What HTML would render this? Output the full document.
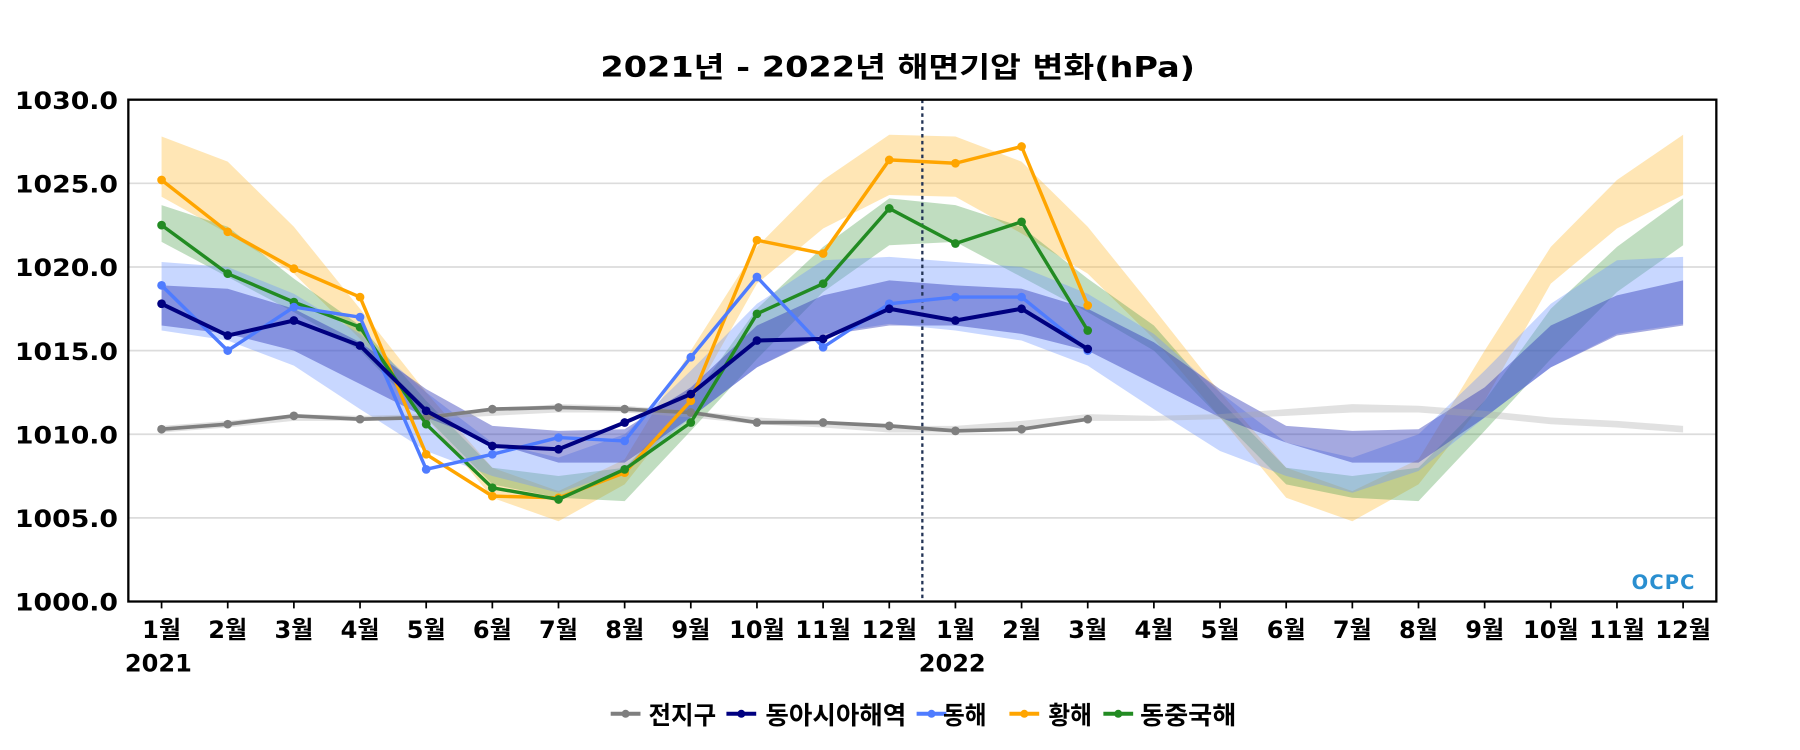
<!DOCTYPE html>
<html><head><meta charset="utf-8">
<style>
html,body{margin:0;padding:0;background:#fff;}
svg{display:block;font-family:"DejaVu Sans","Noto Sans CJK KR",sans-serif;}
</style></head>
<body>
<svg id="chart" width="1800" height="750" viewBox="0 0 1571 654.6" xmlns="http://www.w3.org/2000/svg">
<text x="524" y="67" font-size="25" font-weight="bold" textLength="519" lengthAdjust="spacingAndGlyphs">2021년 - 2022년 해면기압 변화(hPa)</text>
<g id="grid"></g>
<g id="bands"></g>
<g id="lines"></g>
<g id="axes"></g>
<g id="legend"></g>
<text x="1452" y="514" text-anchor="middle" font-size="17" font-weight="bold" fill="#2a8fd0" letter-spacing="1">OCPC</text>
</svg>
<script>
const months = ["1월","2월","3월","4월","5월","6월","7월","8월","9월","10월","11월","12월","1월","2월","3월","4월","5월","6월","7월","8월","9월","10월","11월","12월"];
const yTicks = [1000,1005,1010,1015,1020,1025,1030];
const globalObs = [1010.3,1010.6,1011.1,1010.9,1011.0,1011.5,1011.6,1011.5,1011.3,1010.7,1010.7,1010.5,1010.2,1010.3,1010.9];
const eastAsiaObs = [1017.8,1015.9,1016.8,1015.3,1011.4,1009.3,1009.1,1010.7,1012.4,1015.6,1015.7,1017.5,1016.8,1017.5,1015.1];
const eastSeaObs = [1018.9,1015.0,1017.6,1017.0,1007.9,1008.8,1009.8,1009.6,1014.6,1019.4,1015.2,1017.8,1018.2,1018.2,1015.0];
const yellowSeaObs = [1025.2,1022.1,1019.9,1018.2,1008.8,1006.3,1006.2,1007.7,1012.0,1021.6,1020.8,1026.4,1026.2,1027.2,1017.7];
const eastChinaObs = [1022.5,1019.6,1017.9,1016.4,1010.6,1006.8,1006.1,1007.9,1010.7,1017.2,1019.0,1023.5,1021.4,1022.7,1016.2];
const globalLo = [1010.1,1010.4,1010.8,1010.8,1010.9,1011.1,1011.3,1011.3,1011.0,1010.6,1010.4,1010.1];
const globalHi = [1010.5,1010.8,1011.2,1011.1,1011.2,1011.5,1011.8,1011.7,1011.4,1011.0,1010.8,1010.5];
const eastAsiaLo = [1016.5,1016.0,1015.0,1013.0,1011.0,1009.5,1008.3,1008.3,1011.0,1014.0,1015.9,1016.5];
const eastAsiaHi = [1018.9,1018.7,1017.5,1015.5,1012.7,1010.5,1010.2,1010.3,1012.8,1016.5,1018.3,1019.2];
const eastSeaLo = [1016.2,1015.6,1014.1,1011.5,1009.0,1007.5,1006.5,1007.8,1011.0,1014.0,1016.0,1016.6];
const eastSeaHi = [1020.3,1020.0,1018.4,1016.0,1012.5,1009.5,1008.6,1010.0,1013.8,1017.8,1020.4,1020.6];
const yellowSeaLo = [1024.2,1022.0,1019.6,1015.7,1011.0,1006.2,1004.8,1007.0,1012.0,1019.0,1022.3,1024.3];
const yellowSeaHi = [1027.8,1026.3,1022.4,1017.5,1012.5,1008.0,1006.6,1008.5,1015.0,1021.2,1025.2,1027.9];
const eastChinaLo = [1021.5,1019.4,1017.3,1015.0,1011.0,1007.0,1006.2,1006.0,1010.2,1014.5,1018.5,1021.3];
const eastChinaHi = [1023.7,1022.4,1019.3,1016.5,1012.0,1008.0,1007.5,1008.0,1012.0,1017.5,1021.2,1024.1];

const NS = "http://www.w3.org/2000/svg";
const L=112,R=1498,T=87,B=525;
const xs = i => 141 + i*(1469-141)/23;
const ys = v => B - (v-1000)/30*(B-T);
function mk(tag, attrs, parent){const e=document.createElementNS(NS,tag);for(const k in attrs)e.setAttribute(k,attrs[k]);parent.appendChild(e);return e;}
const grid=document.getElementById('grid'),bands=document.getElementById('bands'),lines=document.getElementById('lines'),axes=document.getElementById('axes'),legend=document.getElementById('legend');

yTicks.forEach(t=>{
  const g=mk('line',{x1:L,x2:R,y1:ys(t),y2:ys(t),stroke:'#dcdcdc','stroke-width':1.5},grid);
  
  
  const tx=mk('text',{x:13,y:ys(t)+8,'font-size':21,'font-weight':'bold',textLength:90,lengthAdjust:'spacingAndGlyphs'},axes);
  tx.textContent=t.toFixed(1);
  
  
});
months.forEach((m,i)=>{
  const tk=mk('line',{x1:xs(i),x2:xs(i),y1:B,y2:B+6,stroke:'#000','stroke-width':1.5},axes);
  
  
  const tx=mk('text',{x:xs(i),y:557,'text-anchor':'middle','font-size':21,'font-weight':'bold'},axes);
  tx.textContent=m;
  
  
});
[["2021",0],["2022",12]].forEach(([y,i])=>{
  const tx=mk('text',{x:xs(i)-32,y:586,'font-size':21,'font-weight':'bold'},axes);
  tx.textContent=y;
  
  
});

function band(lo,hi,color,name){
  const n=24;let pts=[];
  for(let i=0;i<n;i++)pts.push(xs(i)+','+ys(hi[i%12]));
  for(let i=n-1;i>=0;i--)pts.push(xs(i)+','+ys(lo[i%12]));
  const p=mk('polygon',{points:pts.join(' '),fill:color,stroke:'none'},bands);
  
  
}
band(yellowSeaLo,yellowSeaHi,'rgba(255,190,60,0.38)','yellow-sea-normal-band');
band(eastChinaLo,eastChinaHi,'rgba(60,150,60,0.32)','east-china-sea-normal-band');
band(eastSeaLo,eastSeaHi,'rgba(110,150,255,0.38)','east-sea-normal-band');
band(eastAsiaLo,eastAsiaHi,'rgba(40,50,180,0.42)','east-asia-normal-band');
band(globalLo,globalHi,'rgba(170,170,170,0.35)','global-normal-band');

const dv=mk('line',{x1:805,x2:805,y1:T,y2:B,stroke:'#223355','stroke-width':2,'stroke-dasharray':'3,3'},lines);



function series(vals,color,name,w){
  const pts=vals.map((v,i)=>xs(i)+','+ys(v)).join(' ');
  const p=mk('polyline',{points:pts,fill:'none',stroke:color,'stroke-width':w,'stroke-linejoin':'round'},lines);
  
  
  vals.forEach((v,i)=>{
    const c=mk('circle',{cx:xs(i),cy:ys(v),r:3.8,fill:color},lines);
    
    
  });
}
series(globalObs,'#7f7f7f','global',3.2);
series(yellowSeaObs,'#ffa500','yellow-sea',3);
series(eastChinaObs,'#228b22','east-china-sea',3);
series(eastSeaObs,'#4f7cff','east-sea',3);
series(eastAsiaObs,'#000080','east-asia',3.5);

const frame=mk('rect',{x:L,y:T,width:R-L,height:B-T,fill:'none',stroke:'#000','stroke-width':2},axes);



const legendNames=["전지구","동아시아해역","동해","황해","동중국해"];
const legendColors=['#7f7f7f','#000080','#4f7cff','#ffa500','#228b22'];
const legendLineX=[533,634,800,881,963];
const legendTextX=[566,668,823,915,995];
const legendTextW=[59,123,38,38,84];
legendNames.forEach((n,i)=>{
  const g=mk('g',{},legend);
  
  
  mk('line',{x1:legendLineX[i],x2:legendLineX[i]+26,y1:623,y2:623,stroke:legendColors[i],'stroke-width':3.5},g);
  mk('circle',{cx:legendLineX[i]+13,cy:623,r:3.5,fill:legendColors[i]},g);
  const t=mk('text',{x:legendTextX[i],y:632,'font-size':22,'font-weight':'bold',textLength:legendTextW[i],lengthAdjust:'spacingAndGlyphs'},g);
  t.textContent=n;
});
</script>
</body></html>
